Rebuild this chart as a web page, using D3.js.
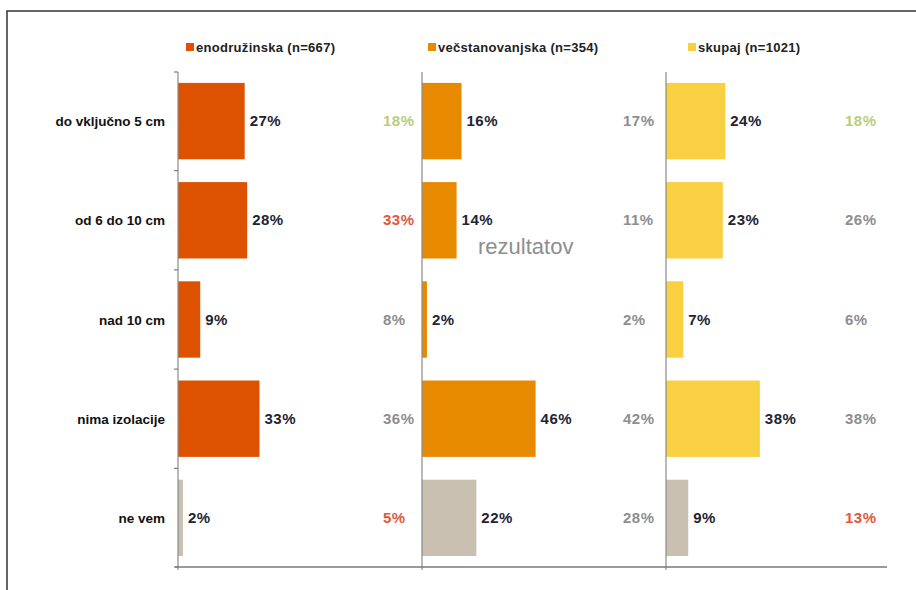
<!DOCTYPE html>
<html lang="sl">
<head>
<meta charset="UTF-8">
<title>Debelina izolacije</title>
<script src="https://d3js.org/d3.v7.min.js"></script>
<style>
    body { margin: 0; background: #fff; }
    svg { display: block; font-family: "Liberation Sans", Arial, sans-serif; }
</style>
</head>
<body>
<script>
// data
const categories = ["do vključno 5 cm", "od 6 do 10 cm", "nad 10 cm", "nima izolacije", "ne vem"]
const series = ["enodružinska (n=667)", "večstanovanjska (n=354)", "skupaj (n=1021)"]
const enodruzinska = [27, 28, 9, 33, 2]
const vecstanovanjska = [16, 14, 2, 46, 22]
const skupaj = [24, 23, 7, 38, 9]
// comparison column to the right of each panel
const primerjava1 = [18, 33, 8, 36, 5]
const primerjava2 = [17, 11, 2, 42, 28]
const primerjava3 = [18, 26, 6, 38, 13]
// g = green, r = red, n = neutral grey
const ton1 = ["g", "r", "n", "n", "r"]
const ton2 = ["n", "n", "n", "n", "n"]
const ton3 = ["g", "n", "n", "n", "r"]

const W = 916, H = 590
const svg = d3.select("body").append("svg").attr("width", W).attr("height", H)

const panelColors = ["#dc5200", "#e88a00", "#f8d042"]
const neVemColor = "#c9c0b2"
const tonColor = {g: "#b9cd7a", r: "#e2583c", n: "#8e8e8e"}

const panels = [
    {name: series[0], values: enodruzinska, cmp: primerjava1, ton: ton1, x0: 178, cmpX: 383, legX: 186},
    {name: series[1], values: vecstanovanjska, cmp: primerjava2, ton: ton2, x0: 422, cmpX: 623, legX: 428},
    {name: series[2], values: skupaj, cmp: primerjava3, ton: ton3, x0: 666, cmpX: 845, legX: 688}
]

const y = d3.scaleBand().domain(categories).range([72, 567]).paddingInner(0.23).paddingOuter(0.11)
const x = d3.scaleLinear().domain([0, 100]).range([0, 247])

// frame
svg.append("path").attr("d", `M7,${H} V11 H${W}`)
    .attr("fill", "none").attr("stroke", "#333").attr("stroke-width", 1.5)

// category labels
svg.append("g").selectAll("text").data(categories).join("text")
    .attr("x", 165).attr("y", d => y(d) + y.bandwidth() / 2 + 5)
    .attr("text-anchor", "end").attr("font-size", 13.5).attr("font-weight", "bold")
    .attr("fill", "#111")
    .text(d => d)

panels.forEach((p, pi) => {
    const g = svg.append("g").attr("transform", `translate(${p.x0},0)`)

    g.selectAll("rect").data(p.values).join("rect")
        .attr("x", 0).attr("y", (d, i) => y(categories[i]))
        .attr("width", d => x(d)).attr("height", y.bandwidth())
        .attr("fill", (d, i) => i === categories.length - 1 ? neVemColor : panelColors[pi])

    g.selectAll("text.val").data(p.values).join("text").attr("class", "val")
        .attr("x", d => x(d) + 5).attr("y", (d, i) => y(categories[i]) + y.bandwidth() / 2 + 5)
        .attr("font-size", 15).attr("font-weight", "bold").attr("fill", "#232333")
        .attr("letter-spacing", 0.5)
        .text(d => d + "%")

    // axis line
    g.append("line").attr("x1", 0).attr("x2", 0).attr("y1", 72).attr("y2", 570)
        .attr("stroke", "#8a8a8a").attr("stroke-width", 1.2)

    svg.append("g").selectAll("text").data(p.cmp).join("text")
        .attr("x", p.cmpX).attr("y", (d, i) => y(categories[i]) + y.bandwidth() / 2 + 5)
        .attr("font-size", 15).attr("font-weight", "bold").attr("letter-spacing", 0.5)
        .attr("fill", (d, i) => tonColor[p.ton[i]])
        .text(d => d + "%")

    // legend
    svg.append("rect").attr("x", p.legX).attr("y", 43).attr("width", 8).attr("height", 8)
        .attr("fill", panelColors[pi])
    svg.append("text").attr("x", p.legX + 10).attr("y", 52)
        .attr("font-size", 13).attr("font-weight", "bold").attr("fill", "#222")
        .attr("letter-spacing", 0.3)
        .text(p.name)
})

// left ticks on first axis at band boundaries
const bounds = categories.map(c => y(c) - y.step() * y.paddingInner() / 2).slice(1)
bounds.unshift(72)
bounds.push(567)
svg.append("g").selectAll("line").data(bounds).join("line")
    .attr("x1", 174).attr("x2", 178).attr("y1", d => d).attr("y2", d => d)
    .attr("stroke", "#666")

// baseline
svg.append("line").attr("x1", 175).attr("x2", 887).attr("y1", 567).attr("y2", 567)
    .attr("stroke", "#7a7a7a").attr("stroke-width", 1.5)

// stray label from the source
svg.append("text").attr("x", 478).attr("y", 254)
    .attr("font-size", 22).attr("fill", "#8e8e8e").text("rezultatov")
</script>
</body>
</html>
